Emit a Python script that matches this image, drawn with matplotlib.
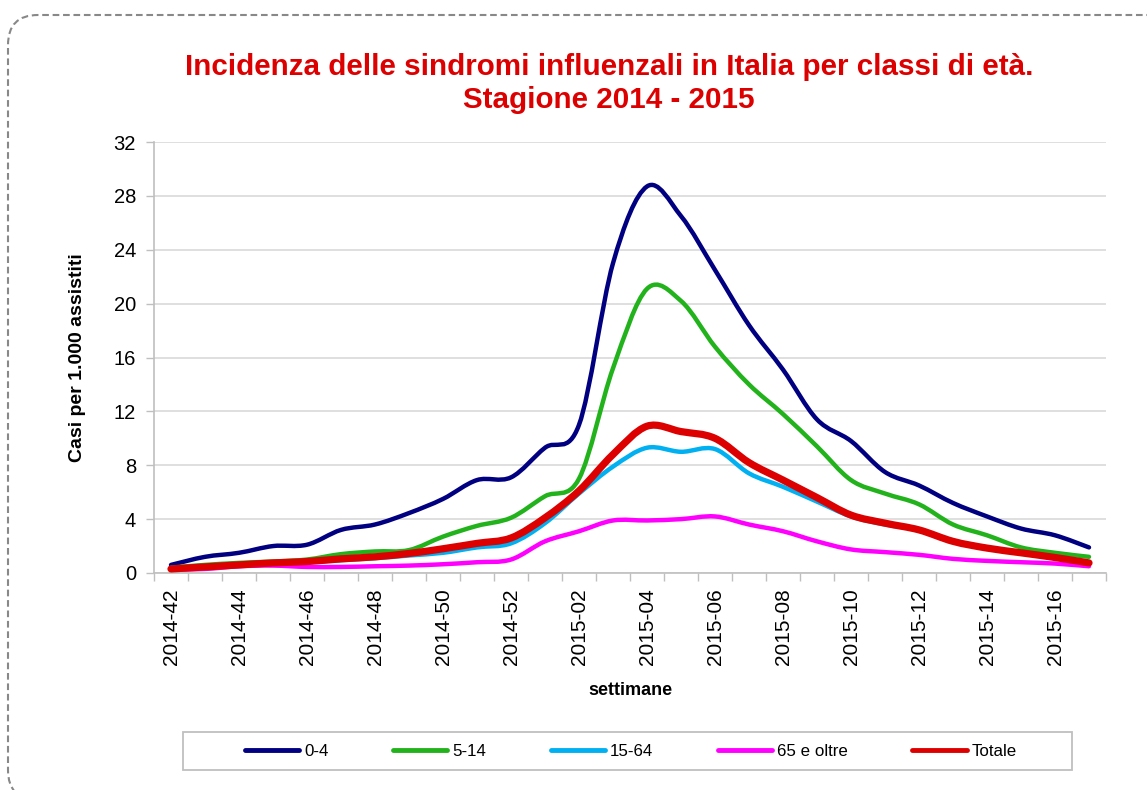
import matplotlib
matplotlib.use("Agg")
import matplotlib.pyplot as plt
from matplotlib.path import Path
from matplotlib.patches import PathPatch, FancyBboxPatch, Rectangle
from matplotlib.lines import Line2D
from matplotlib import font_manager
import matplotlib.transforms as mtransforms
import numpy as np

weeks = [f"2014-{w}" for w in range(42, 53)] + [f"2015-{w:02d}" for w in range(1, 18)]
tick_labels = [w if i % 2 == 0 else "" for i, w in enumerate(weeks)]

age_0_4 = [0.6, 1.2, 1.5, 2.0, 2.1, 3.2, 3.6, 4.45, 5.5, 6.9, 7.1, 9.3, 11.0, 23.0,
           28.7, 26.5, 22.5, 18.4, 15.1, 11.4, 9.8, 7.5, 6.5, 5.2, 4.2, 3.3, 2.8, 1.9]
age_5_14 = [0.4, 0.6, 0.75, 0.85, 1.0, 1.4, 1.6, 1.7, 2.7, 3.5, 4.1, 5.7, 7.0, 15.2,
            21.1, 20.2, 16.8, 14.0, 11.8, 9.4, 6.9, 5.9, 5.1, 3.6, 2.8, 1.9, 1.5, 1.2]
age_15_64 = [0.3, 0.4, 0.55, 0.7, 0.8, 0.95, 1.1, 1.3, 1.5, 1.9, 2.2, 3.7, 5.9, 7.9,
             9.3, 9.0, 9.2, 7.4, 6.4, 5.3, 4.2, 3.6, 3.2, 2.4, 1.9, 1.5, 1.1, 0.7]
age_65 = [0.25, 0.3, 0.5, 0.55, 0.45, 0.45, 0.5, 0.55, 0.65, 0.8, 1.0, 2.35, 3.1, 3.9,
          3.9, 4.0, 4.2, 3.6, 3.1, 2.35, 1.75, 1.55, 1.35, 1.05, 0.9, 0.8, 0.7, 0.5]
totale = [0.3, 0.45, 0.6, 0.75, 0.85, 1.05, 1.2, 1.45, 1.8, 2.2, 2.6, 4.1, 6.1, 8.8,
          10.9, 10.5, 10.0, 8.2, 6.9, 5.6, 4.3, 3.7, 3.2, 2.35, 1.85, 1.5, 1.15, 0.75]

series_names = ["0-4", "5-14", "15-64", "65 e oltre", "Totale"]
series_values = [age_0_4, age_5_14, age_15_64, age_65, totale]
colors = ["#000080", "#22B31C", "#00B0F0", "#FF00FF", "#DD0000"]
widths = [3.2, 3.2, 3.2, 3.2, 5.2]
y_ticks = [0, 4, 8, 12, 16, 20, 24, 28, 32]

available = {f.name for f in font_manager.fontManager.ttflist}
base_font = "Liberation Sans" if "Liberation Sans" in available else "DejaVu Sans"
plt.rcParams["font.family"] = [base_font, "DejaVu Sans"]

W, H = 1147, 790


def smooth_path(xs, ys):
    pts = np.column_stack([xs, ys]).astype(float)
    n = len(pts)
    verts = [pts[0]]
    codes = [Path.MOVETO]
    for i in range(n - 1):
        p0 = pts[i - 1] if i > 0 else pts[i]
        p1 = pts[i]
        p2 = pts[i + 1]
        p3 = pts[i + 2] if i + 2 < n else pts[i + 1]
        c1 = p1 + (p2 - p0) / 6.0
        c2 = p2 - (p3 - p1) / 6.0
        verts += [c1, c2, p2]
        codes += [Path.CURVE4] * 3
    return Path(verts, codes)


fig = plt.figure(figsize=(W / 100, H / 100), dpi=100)
ax = fig.add_axes([154 / W, 1 - 573 / H, (1106 - 154) / W, (573 - 142) / H])

x = np.arange(len(weeks))
for vals, col, lw in zip(series_values, colors, widths):
    patch = PathPatch(smooth_path(x, vals), facecolor="none", edgecolor=col, lw=lw,
                      capstyle="round", joinstyle="round", zorder=3)
    ax.add_patch(patch)

ax.set_xlim(-0.5, len(weeks) - 0.5)
ax.set_ylim(0, 32)
ax.set_yticks(y_ticks)
ax.set_yticklabels([str(v) for v in y_ticks], fontsize=14.5)
ax.set_xticks(x)
ax.set_xticklabels(tick_labels, rotation=90, fontsize=15)
ax.set_xticks(np.arange(-0.5, len(weeks), 1.0), minor=True)
ax.tick_params(axis="x", which="major", length=0, pad=11)
ax.tick_params(axis="x", which="minor", length=6, color="#BFBFBF", width=1)
ax.tick_params(axis="y", length=6, color="#BFBFBF", width=1, pad=7)
ax.grid(axis="y", color="#D9D9D9", lw=1.2, zorder=0)
ax.set_axisbelow(True)
for s in ["top", "right"]:
    ax.spines[s].set_visible(False)
for s in ["left", "bottom"]:
    ax.spines[s].set_color("#BFBFBF")
    ax.spines[s].set_linewidth(1.2)

ax.set_ylabel("Casi per 1.000 assistiti", fontsize=14, fontweight="bold", labelpad=20)
ax.set_xlabel("settimane", fontsize=13, fontweight="bold", labelpad=12)

fig.text(609 / W, 1 - 67 / H, "Incidenza delle sindromi influenzali in Italia per classi di età.",
         ha="center", va="center", color="#DD0000", fontsize=21.3, fontweight="bold")
fig.text(609 / W, 1 - 100 / H, "Stagione 2014 - 2015",
         ha="center", va="center", color="#DD0000", fontsize=21.3, fontweight="bold")

# pixel-coordinate transform (origin bottom-left)
px = mtransforms.Affine2D().scale(1 / W, 1 / H) + fig.transFigure

# legend frame
frame = Rectangle((183, H - 770), 1072 - 183, 770 - 732, transform=px,
                  facecolor="white", edgecolor="#BFBFBF", lw=1.3)
fig.patches.append(frame)
handles = [Line2D([0], [0], color=c, lw=3.5, solid_capstyle="round") for c in colors]
leg = fig.legend(handles, series_names, loc="center", bbox_to_anchor=(631 / W, 1 - 751 / H),
                 ncol=5, frameon=False, handlelength=3.2, handletextpad=0.3,
                 columnspacing=3.8, prop={"family": base_font, "size": 12.2})

# dashed rounded border
border = FancyBboxPatch((8, H - 800), 1178 - 8, 800 - 15,
                        boxstyle="round,pad=0,rounding_size=30", transform=px,
                        facecolor="none", edgecolor="#888888", lw=1.5,
                        linestyle=(0, (3.2, 1.8)))
fig.patches.append(border)

fig.savefig("out.png", dpi=100, facecolor="white")
